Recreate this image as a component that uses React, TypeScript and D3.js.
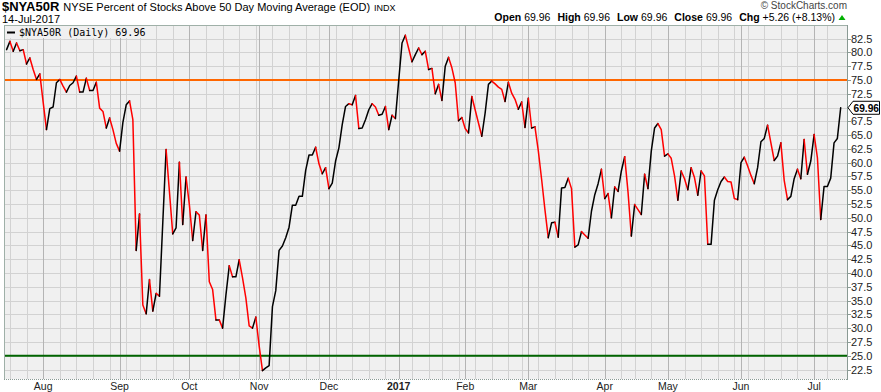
import React from "react";
import * as d3 from "d3";

const W = 881;
const H = 392;

const START = "2016-07-15";
const END = "2017-07-14";
const holidays = [
  "2016-09-05", "2016-11-24", "2016-12-26", "2017-01-02", "2017-01-16",
  "2017-02-20", "2017-04-14", "2017-05-29", "2017-07-04",
];

// Daily closes of $NYA50R, one per trading day from 15-Jul-2016 to 14-Jul-2017
const values = [
  80.5, 82.0, 80.2, 81.7, 80.3, 80.5, 77.9, 79.0, 76.9, 75.1,
  76.1, 71.0, 66.0, 69.8, 70.1, 74.5, 75.1, 73.9, 72.8, 74.0,
  74.5, 75.7, 72.8, 72.8, 75.3, 73.1, 73.1, 74.6, 69.9, 69.3,
  66.3, 68.1, 66.0, 63.5, 62.1, 67.3, 70.5, 71.2, 67.8, 44.1,
  50.7, 34.2, 32.6, 38.8, 33.1, 36.3, 35.8, 49.1, 62.4, 54.8,
  47.1, 48.2, 60.1, 48.8, 57.4, 52.4, 45.9, 51.1, 50.5, 44.1,
  50.5, 38.4, 37.0, 31.5, 31.5, 30.0, 36.0, 41.3, 39.3, 39.3,
  42.4, 39.1, 35.5, 30.4, 30.0, 32.0, 26.8, 22.3, 22.8, 23.2,
  33.9, 36.8, 44.1, 44.9, 46.4, 48.3, 52.3, 52.3, 53.9, 53.9,
  58.6, 61.4, 61.4, 62.8, 59.8, 58.0, 59.1, 55.3, 56.3, 60.3,
  62.7, 66.9, 70.2, 70.7, 70.5, 72.2, 66.2, 66.3, 67.8, 69.6,
  70.7, 70.1, 68.6, 68.8, 70.2, 66.0, 68.6, 68.0, 74.9, 81.7,
  83.1, 80.7, 78.3, 79.6, 80.8, 79.6, 80.2, 76.9, 77.1, 72.5,
  74.2, 71.3, 77.5, 79.1, 77.2, 74.5, 67.6, 68.2, 66.2, 65.4,
  72.0, 69.6, 67.2, 64.8, 69.0, 74.2, 74.8, 74.3, 73.7, 73.3,
  71.1, 74.6, 72.6, 71.5, 69.7, 71.0, 66.4, 71.7, 66.3, 66.5,
  62.2, 57.0, 51.5, 46.4, 49.1, 49.2, 46.5, 55.4, 55.5, 57.2,
  55.3, 44.7, 45.1, 47.5, 46.9, 46.3, 51.2, 54.2, 56.2, 58.8,
  53.5, 54.4, 50.0, 55.6, 54.8, 58.5, 61.1, 54.7, 46.7, 52.4,
  51.5, 50.6, 57.9, 55.3, 62.1, 66.3, 67.1, 66.0, 61.2, 61.6,
  60.8, 57.6, 53.2, 58.5, 57.1, 55.1, 59.1, 57.3, 54.1, 58.5,
  57.6, 45.2, 45.2, 53.2, 55.1, 56.6, 57.4, 56.6, 56.5, 53.5,
  53.3, 60.0, 61.0, 59.4, 57.7, 56.2, 59.1, 63.8, 64.4, 66.8,
  63.6, 60.4, 61.2, 63.6, 56.8, 53.3, 53.9, 57.1, 58.8, 57.1,
  64.2, 57.9, 60.3, 65.1, 60.9, 49.7, 55.7, 55.7, 57.2, 63.6,
  64.4, 69.96,
];

const monthLabels = ["Aug", "Sep", "Oct", "Nov", "Dec", "2017", "Feb", "Mar", "Apr", "May", "Jun", "Jul"];
const yTicks = [22.5, 25, 27.5, 30, 32.5, 35, 37.5, 40, 42.5, 45, 47.5, 50, 52.5, 55, 57.5, 60, 62.5, 65, 67.5, 70, 72.5, 75, 77.5, 80, 82.5];
const refLevels = [75, 25];
const refColors = ["#ff6600", "#006400"];

const title = "$NYA50R";
const subtitle = "NYSE Percent of Stocks Above 50 Day Moving Average (EOD)";
const exchange = "INDX";
const dateLabel = "14-Jul-2017";
const legendText = "$NYA50R (Daily) 69.96";
const lastLabel = "69.96";
const ohlcLabels = ["Open", "High", "Low", "Close", "Chg"];
const ohlcValues = ["69.96", "69.96", "69.96", "69.96", "+5.26 (+8.13%)"];

const fmt = d3.utcFormat("%Y-%m-%d");
const tradingDays: Date[] = d3
  .utcDay.range(new Date(START + "T00:00:00Z"), d3.utcDay.offset(new Date(END + "T00:00:00Z"), 1))
  .filter((d) => d.getUTCDay() !== 0 && d.getUTCDay() !== 6 && !holidays.includes(fmt(d)));

const monthStarts: number[] = [];
const weekStarts: number[] = [];
tradingDays.forEach((d, i) => {
  if (i === 0) return;
  const p = tradingDays[i - 1];
  if (d.getUTCMonth() !== p.getUTCMonth()) monthStarts.push(i);
  if (+d3.utcMonday.floor(d) !== +d3.utcMonday.floor(p)) weekStarts.push(i);
});

const L = 4, R = 847, T = 25, B = 379;

export default function App() {
  const x = d3.scaleLinear().domain([-0.78, 252.9]).range([L, R]);
  const y = d3.scaleLinear().domain([20.78, 84.97]).range([B, T]);

  const runs: { color: string; pts: [number, number][] }[] = [];
  for (let i = 1; i < values.length; i++) {
    const color = values[i] < values[i - 1] ? "#ff0000" : "#000000";
    const p0: [number, number] = [x(i - 1), y(values[i - 1])];
    const p1: [number, number] = [x(i), y(values[i])];
    const last = runs[runs.length - 1];
    if (last && last.color === color) last.pts.push(p1);
    else runs.push({ color, pts: [p0, p1] });
  }
  const line = d3.line<[number, number]>();
  const lastY = y(values[values.length - 1]);

  return (
    <svg width={W} height={H} style={{ position: "absolute", left: 0, top: 0, background: "#fff" }}
      fontFamily="'Liberation Sans', Arial, sans-serif">
      <defs>
        <clipPath id="plot"><rect x={L} y={T} width={R - L} height={B - T} /></clipPath>
      </defs>
      {/* header */}
      <text x={2} y={10.5} fontSize={13} fontWeight="bold" fill="#000">{title}
        <tspan dx={4} fontSize={11} fontWeight="normal">{subtitle}</tspan>
        <tspan dx={4} fontSize={9} fontWeight="normal">{exchange}</tspan>
      </text>
      <text x={2} y={23} fontSize={11} fill="#000">{dateLabel}</text>
      <text x={847} y={8.5} fontSize={10} fill="#444" textAnchor="end">© StockCharts.com</text>
      <text x={835} y={21} fontSize={10.5} fill="#000" textAnchor="end">
        {ohlcLabels.map((lab, k) => (
          <React.Fragment key={lab}>
            <tspan fontWeight="bold" dx={k === 0 ? 0 : 7}>{lab}</tspan>
            <tspan dx={3}>{ohlcValues[k]}</tspan>
          </React.Fragment>
        ))}
      </text>
      <path d="M838.5,20 L842,15 L845.5,20 Z" fill="#00b000" />

      {/* plot background */}
      <rect x={L} y={T} width={R - L} height={B - T} fill="#f0f0f0" />
      <g clipPath="url(#plot)">
        {yTicks.map((t) => (
          <line key={t} x1={L} x2={R} y1={Math.round(y(t)) + 0.5} y2={Math.round(y(t)) + 0.5} stroke="#d2d2d2" strokeWidth={1} />
        ))}
        {weekStarts.map((i) => (
          <line key={"w" + i} x1={Math.round(x(i)) + 0.5} x2={Math.round(x(i)) + 0.5} y1={T} y2={B} stroke="#d2d2d2" strokeWidth={1} />
        ))}
        {monthStarts.map((i) => (
          <line key={"m" + i} x1={Math.round(x(i)) + 0.5} x2={Math.round(x(i)) + 0.5} y1={T} y2={B} stroke="#b4b4b4" strokeWidth={1} />
        ))}
        <rect x={L} y={T} width={145} height={13} fill="#f0f0f0" />
        {refLevels.map((v, k) => (
          <line key={"r" + v} x1={L} x2={R} y1={y(v)} y2={y(v)} stroke={refColors[k]} strokeWidth={2} />
        ))}
        {runs.map((r, k) => (
          <path key={"run" + k} d={line(r.pts) || ""} fill="none" stroke={r.color} strokeWidth={1.5}
            strokeLinejoin="round" strokeLinecap="round" />
        ))}
      </g>
      {/* legend */}
      <line x1={7} x2={15} y1={32.5} y2={32.5} stroke="#000" strokeWidth={2} />
      <text x={19} y={36} fontSize={10} fontFamily="'DejaVu Sans Mono', monospace" fill="#000">{legendText}</text>

      {/* frame */}
      <line x1={L + 0.5} x2={L + 0.5} y1={T} y2={B} stroke="#9fb0a8" />
      <line x1={L} x2={R} y1={T + 0.5} y2={T + 0.5} stroke="#9fb0a8" />
      <line x1={L} x2={R} y1={B + 0.5} y2={B + 0.5} stroke="#8a9a94" strokeDasharray="1,1" />
      <line x1={R + 0.5} x2={R + 0.5} y1={T} y2={B + 1} stroke="#8a9a94" />

      {/* right axis */}
      {yTicks.map((t) => (
        <g key={"yt" + t}>
          <line x1={R} x2={R + 4} y1={Math.round(y(t)) + 0.5} y2={Math.round(y(t)) + 0.5} stroke="#8a9a94" />
          {Math.abs(y(t) - lastY) > 9 && (
            <text x={R + 4} y={y(t) + 4} fontSize={11} fill="#222">{d3.format(".1f")(t)}</text>
          )}
        </g>
      ))}
      {/* last value tag */}
      <path d={`M${R + 1},${lastY} L${R + 6},${lastY - 6.5} L${879.5},${lastY - 6.5} L${879.5},${lastY + 6.5} L${R + 6},${lastY + 6.5} Z`}
        fill="#fff" stroke="#000" strokeWidth={1} />
      <text x={R + 6.5} y={lastY + 4} fontSize={10.5} fontWeight="bold" fill="#000"
        textLength={25.5} lengthAdjust="spacingAndGlyphs">{lastLabel}</text>

      {/* bottom axis */}
      {monthStarts.map((i, k) => (
        <text key={"ml" + i} x={x(i)} y={390} fontSize={10.5} textAnchor="middle"
          fontFamily="'Liberation Sans Narrow', 'Liberation Sans', Arial, sans-serif"
          fontWeight={monthLabels[k] === "2017" ? "bold" : "normal"} fill="#222">{monthLabels[k]}</text>
      ))}
    </svg>
  );
}
